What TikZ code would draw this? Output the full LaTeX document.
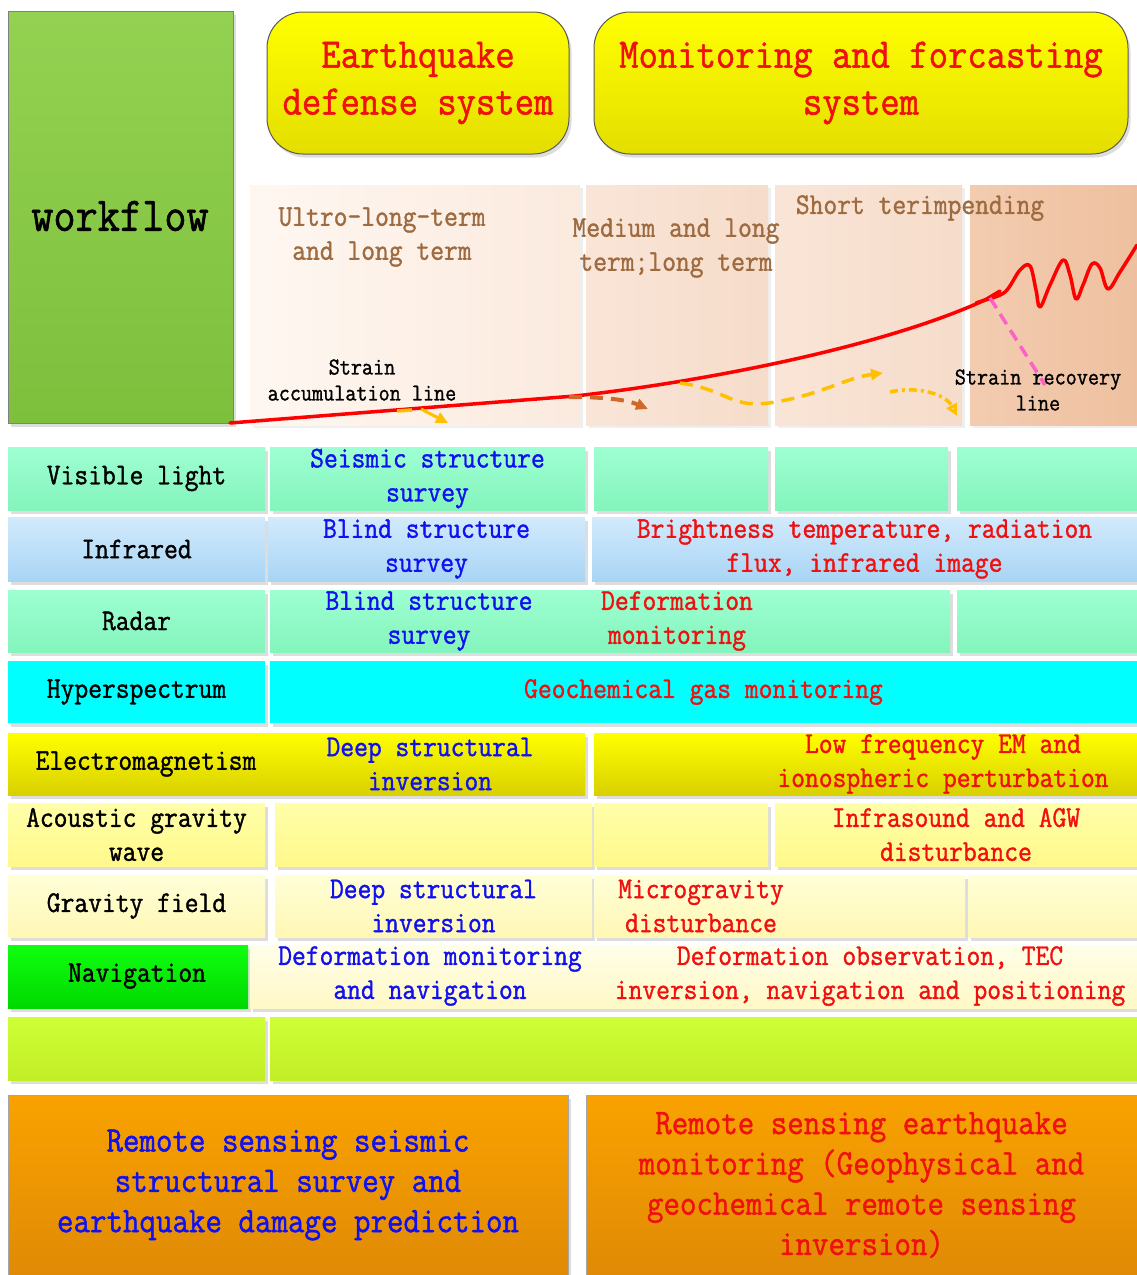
\documentclass[tikz,border=0pt]{standalone}
\usepackage{fontspec}
\newfontfamily\mymono[FakeStretch=0.89,FakeBold=1.2]{Latin Modern Mono}
\usetikzlibrary{shadows,arrows.meta}
\definecolor{myblue}{HTML}{1010F0}
\definecolor{myred}{HTML}{F01010}
\definecolor{mybrown}{HTML}{9E6B40}
\definecolor{mintT}{HTML}{9EFFD2}
\definecolor{mintB}{HTML}{84F4BC}
\definecolor{blueT}{HTML}{D2EAFC}
\definecolor{blueB}{HTML}{A8D5F5}
\definecolor{mycyan}{HTML}{00FFFF}
\definecolor{emT}{HTML}{FFFF00}
\definecolor{emB}{HTML}{D8D000}
\definecolor{agT}{HTML}{FFFFAA}
\definecolor{agB}{HTML}{FFF88A}
\definecolor{gfT}{HTML}{FFFFD8}
\definecolor{gfB}{HTML}{FFF7B4}
\definecolor{nvT}{HTML}{10FF10}
\definecolor{nvB}{HTML}{00D800}
\definecolor{nyT}{HTML}{FFFEE8}
\definecolor{nyB}{HTML}{FFF8C6}
\definecolor{limeT}{HTML}{CEFF36}
\definecolor{limeB}{HTML}{C2EE26}
\definecolor{orT}{HTML}{F9A200}
\definecolor{orB}{HTML}{E08A06}
\definecolor{ylT}{HTML}{FFFF00}
\definecolor{ylB}{HTML}{E4DE00}
\definecolor{wfT}{HTML}{94D152}
\definecolor{wfB}{HTML}{7DC03C}
\definecolor{pkA}{HTML}{FEF7F1}
\definecolor{pkB}{HTML}{FBEADE}
\definecolor{pkC}{HTML}{F9E5D7}
\definecolor{pkD}{HTML}{F6DCCA}
\definecolor{pkE}{HTML}{F3CCB0}
\definecolor{pkF}{HTML}{EEC09F}
\definecolor{arrY}{HTML}{FFC000}
\definecolor{arrBr}{HTML}{D0682A}
\definecolor{pinkd}{HTML}{FF5FCB}
\newcommand\myTfont{\mymono\fontsize{30.1}{34}\selectfont}
\newcommand\myBigfont{\mymono\fontsize{42.2}{47}\selectfont}
\newcommand\myBotfont{\mymono\fontsize{36}{40.3}\selectfont}
\newcommand\mySmfont{\mymono\fontsize{24.2}{26}\selectfont}
\newcommand\mycell[7]{\node[cellbase,#6,minimum width={(#4-#2)*1pt},minimum height={(#5-#3)*1pt}] (#1) at (#2,#3) {#7};}
\tikzset{
  shadowed/.style={drop shadow={shadow xshift=2.5pt,shadow yshift=-3.5pt,fill=black!22,opacity=0.6}},
  cellbase/.style={anchor=north west,inner sep=0pt,outer sep=0pt,align=center,font=\myTfont,shadowed},
  txt/.style={align=center,inner sep=0pt,font=\myTfont},
  mint/.style={top color=mintT,bottom color=mintB},
  lblue/.style={top color=blueT,bottom color=blueB},
  cyanc/.style={fill=mycyan},
  emc/.style={top color=emT,bottom color=emB},
  agc/.style={top color=agT,bottom color=agB},
  gfc/.style={top color=gfT,bottom color=gfB},
  nvc/.style={top color=nvT,bottom color=nvB},
  nyc/.style={top color=nyT,bottom color=nyB},
  limec/.style={top color=limeT,bottom color=limeB},
  orc/.style={top color=orT,bottom color=orB,draw=black!35,line width=0.8pt,font=\myBotfont},
  ylbox/.style={top color=ylT,bottom color=ylB,draw=black!65,line width=1pt,rounded corners=36pt,font=\myBigfont,text=myred},
  panel/.style={anchor=north west,inner sep=0pt,outer sep=0pt,drop shadow={shadow xshift=3pt,shadow yshift=-3pt,fill=black!12}},
  phase/.style={txt,text=mybrown},
  strainlbl/.style={align=center,inner sep=0pt,font=\mySmfont,text=black},
  dashy/.style={draw=arrY,line width=3.5pt,dash pattern=on 13pt off 8pt},
}
\begin{document}
\begin{tikzpicture}[x=1pt,y=-1pt]
\useasboundingbox (0,0) rectangle (1137,1275);
\fill[white] (0,0) rectangle (1137,1275);
% ---- top area ----
\mycell{wf}{8}{11}{233}{423}{top color=wfT,bottom color=wfB,draw=black!50,line width=1pt}{}
\node[txt,font=\mymono\fontsize{48.4}{50}\selectfont] (wft) at (120,216) {workflow};
\mycell{eq}{267}{12}{569}{154}{ylbox}{Earthquake\\defense system}
\mycell{mf}{594}{12}{1128}{154}{ylbox}{Monitoring and forcasting\\system}
% phase panels
\node[panel,left color=pkA,right color=pkB,minimum width=330pt,minimum height=240pt] (p1) at (250,185) {};
\node[panel,left color=pkC,right color=pkD,minimum width=182pt,minimum height=240pt] (p2) at (586,185) {};
\node[panel,left color=pkC,right color=pkD,minimum width=187pt,minimum height=240pt] (p3) at (775,185) {};
\node[panel,left color=pkE,right color=pkF,minimum width=167pt,minimum height=240pt] (p4) at (970,185) {};
\node[phase] (t1) at (382,237) {Ultro-long-term\\and long term};
\node[phase] (t2) at (676,248) {Medium and long\\term;long term};
\node[phase] (t3) at (920,208) {Short terimpending};
\node[strainlbl] (s1) at (362,380) {Strain\\accumulation line};
% strain curves
\coordinate (r0) at (230,423);
\coordinate (r1) at (575,396);
\coordinate (r2) at (985,300);
\coordinate (r3) at (1137,245);
\draw[red,line width=3.5pt,line cap=round] (r0) -- (r1) .. controls (700,382) and (880,348) .. (r2);
\draw[red,line width=3.5pt,line cap=round,line join=round] (r2) -- (1000,291) (976,303) -- (r2);
\draw[red,line width=3.5pt,line cap=round,line join=round] plot[smooth,tension=0.6] coordinates {(r2) (1005,292) (1020,270) (1030,266) (1036,290) (1040,307) (1050,285) (1063,260) (1070,275) (1076,299) (1083,285) (1092,264) (1100,268) (1108,289) (1120,272) (r3)};
\coordinate (k0) at (990,298);
\coordinate (k1) at (1045,385);
\draw[pinkd,line width=3.5pt,dash pattern=on 12pt off 7pt] (k0) -- (k1);
\node[strainlbl] (s2) at (1038,390) {Strain recovery\\line};
% dashed arrows
\coordinate (a0) at (397,411);
\coordinate (a1) at (412,410);
\coordinate (a2) at (421,409);
\coordinate (a3) at (448,423);
\draw[arrY,line width=3.5pt] (a0) -- (a1);
\draw[arrY,line width=3pt,-{Triangle[length=12pt,width=11pt]}] (a2) -- (a3);
\coordinate (b0) at (569,397);
\coordinate (b1) at (648,409);
\draw[arrBr,line width=4pt,dash pattern=on 13pt off 8pt,-{Triangle[length=12pt,width=11pt]}] (b0) .. controls (600,397) and (625,399) .. (b1);
\coordinate (c0) at (680,383);
\coordinate (c1) at (883,373);
\draw[dashy,-{Triangle[length=12pt,width=11pt]}] (c0) .. controls (730,390) and (730,410) .. (775,402) .. controls (820,395) and (845,378) .. (c1);
\coordinate (d0) at (890,392);
\coordinate (d1) at (957,416);
\draw[arrY,line width=3.5pt,dash pattern=on 8pt off 4pt on 3pt off 4pt,-{Triangle[open,length=12pt,width=11pt]}] (d0) .. controls (915,386) and (945,393) .. (d1);
% ---- table ----
% row 1
\mycell{vl}{8}{447}{265}{510}{mint}{Visible light}
\mycell{vl1}{270}{447}{585}{510}{mint,text=myblue}{Seismic structure\\survey}
\mycell{vl2}{594}{447}{768}{510}{mint}{}
\mycell{vl3}{775}{447}{948}{510}{mint}{}
\mycell{vl4}{957}{447}{1137}{510}{mint}{}
% row 2
\mycell{ir}{8}{517}{265}{581}{lblue}{Infrared}
\mycell{ir1}{268}{517}{585}{581}{lblue,text=myblue}{Blind structure\\survey}
\mycell{ir2}{592}{517}{1137}{581}{lblue,text=myred}{Brightness temperature, radiation\\flux, infrared image}
% row 3
\mycell{rd}{8}{590}{265}{652}{mint}{Radar}
\mycell{rd1}{270}{590}{588}{652}{mint,text=myblue}{Blind structure\\survey}
\mycell{rd2}{588}{590}{950}{652}{mint}{}
\node[txt,text=myred] (rdt) at (677,621) {Deformation\\monitoring};
\mycell{rd3}{957}{590}{1137}{652}{mint}{}
% row 4
\mycell{hs}{8}{661}{265}{723}{cyanc}{Hyperspectrum}
\mycell{hs1}{270}{661}{1137}{723}{cyanc,text=myred}{Geochemical gas monitoring}
% row 5
\mycell{em}{8}{733}{585}{795}{emc}{}
\node[txt] (emt) at (146,764) {Electromagnetism};
\node[txt,text=myblue] (emt1) at (430,764) {Deep structural\\inversion};
\mycell{em1}{594}{733}{1137}{795}{emc}{}
\node[txt,text=myred] (emt2) at (943,764) {Low frequency EM and\\ionospheric perturbation};
% row 6
\mycell{ag}{8}{803}{265}{866}{agc}{Acoustic gravity\\wave}
\mycell{ag1}{275}{803}{592}{866}{agc}{}
\mycell{ag2}{594}{803}{768}{866}{agc}{}
\mycell{ag3}{775}{803}{1137}{866}{agc,text=myred}{Infrasound and AGW\\disturbance}
% row 7
\mycell{gf}{8}{875}{265}{937}{gfc}{Gravity field}
\mycell{gf1}{275}{875}{592}{937}{gfc,text=myblue}{Deep structural\\inversion}
\mycell{gf2}{594}{875}{965}{937}{gfc}{}
\node[txt,text=myred] (gft) at (701,906) {Microgravity\\disturbance};
\mycell{gf3}{968}{875}{1137}{937}{gfc}{}
% row 8
\mycell{nv}{8}{945}{248}{1008}{nvc}{}
\node[txt] (nvt) at (137,976) {Navigation};
\mycell{nv1}{250}{945}{1137}{1008}{nyc}{}
\node[txt,text=myblue] (nvt1) at (430,976) {Deformation monitoring\\and navigation};
\node[txt,text=myred] (nvt2) at (870,976) {Deformation observation, TEC\\inversion, navigation and positioning};
% row 9
\mycell{e1}{8}{1017}{265}{1080}{limec}{}
\mycell{e2}{270}{1017}{1137}{1080}{limec}{}
% ---- bottom ----
\mycell{b1}{8}{1095}{568}{1275}{orc,text=myblue}{Remote sensing seismic\\structural survey and\\earthquake damage prediction}
\mycell{b2}{586}{1095}{1137}{1275}{orc,text=myred}{Remote sensing earthquake\\monitoring (Geophysical and\\geochemical remote sensing\\inversion)}
\end{tikzpicture}
\end{document}
